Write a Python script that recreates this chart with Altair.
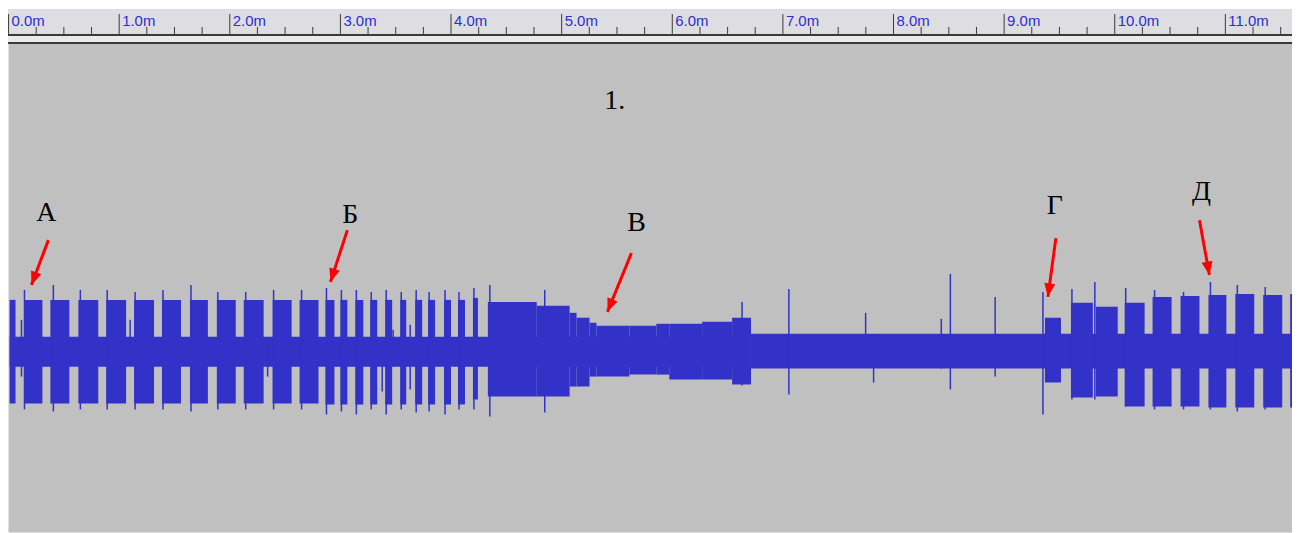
import math
import altair as alt
import pandas as pd

# ---------------- ruler (minutes) ----------------
ruler_major = [0, 1, 2, 3, 4, 5, 6, 7, 8, 9, 10, 11]
ruler_labels = ["0.0m", "1.0m", "2.0m", "3.0m", "4.0m", "5.0m", "6.0m",
                "7.0m", "8.0m", "9.0m", "10.0m", "11.0m"]
ruler_minor = [0.25, 0.5, 0.75, 1.25, 1.5, 1.75, 2.25, 2.5, 2.75, 3.25, 3.5, 3.75,
               4.25, 4.5, 4.75, 5.25, 5.5, 5.75, 6.25, 6.5, 6.75, 7.25, 7.5, 7.75,
               8.25, 8.5, 8.75, 9.25, 9.5, 9.75, 10.25, 10.5, 10.75, 11.25, 11.5]

# ---------------- waveform (time in minutes, amplitude) ----------------
base_start = [0.01, 6.712]
base_end = [6.712, 11.64]
base_top = [0.15, 0.18]
base_bottom = [-0.15, -0.17]

burst_start = [0.01, 0.144, 0.378, 0.631, 0.883, 1.135, 1.387, 1.640, 1.883, 2.126, 2.387, 2.631,
               2.865, 3.000, 3.135, 3.270, 3.405, 3.541, 3.676, 3.793, 3.937, 4.063, 4.198,
               4.333, 4.775, 5.072, 5.135, 5.252, 5.315, 5.613, 5.856, 5.973, 6.270, 6.541,
               9.369, 9.604, 9.829, 10.090, 10.342, 10.595, 10.847, 11.090, 11.342, 11.586]
burst_end = [0.063, 0.306, 0.550, 0.811, 1.063, 1.315, 1.559, 1.802, 2.054, 2.306, 2.559, 2.802,
             2.946, 3.063, 3.207, 3.333, 3.468, 3.595, 3.739, 3.856, 4.000, 4.126, 4.243,
             4.775, 5.072, 5.135, 5.252, 5.315, 5.613, 5.856, 5.973, 6.270, 6.541, 6.712,
             9.514, 9.802, 10.027, 10.270, 10.514, 10.766, 11.009, 11.261, 11.514, 11.64]
burst_top = [0.52, 0.52, 0.52, 0.52, 0.52, 0.52, 0.52, 0.52, 0.52, 0.52, 0.52, 0.52,
             0.52, 0.52, 0.52, 0.52, 0.52, 0.52, 0.52, 0.52, 0.52, 0.52, 0.54,
             0.50, 0.46, 0.39, 0.34, 0.29, 0.26, 0.26, 0.28, 0.28, 0.30, 0.34,
             0.34, 0.49, 0.45, 0.49, 0.55, 0.56, 0.57, 0.58, 0.57, 0.58]
burst_bottom = [-0.52, -0.52, -0.52, -0.52, -0.52, -0.52, -0.52, -0.52, -0.52, -0.52, -0.52, -0.52,
                -0.53, -0.53, -0.53, -0.53, -0.53, -0.53, -0.53, -0.53, -0.53, -0.53, -0.48,
                -0.45, -0.45, -0.35, -0.35, -0.25, -0.25, -0.23, -0.23, -0.28, -0.28, -0.33,
                -0.31, -0.46, -0.45, -0.55, -0.55, -0.55, -0.56, -0.56, -0.56, -0.56]

spike_t = [0.117, 0.144, 0.405, 0.649, 0.892, 1.099, 1.144, 1.396, 1.649, 1.892, 2.144, 2.342, 2.396, 2.649,
           2.874, 3.009, 3.144, 3.279, 3.378, 3.414, 3.477, 3.550, 3.631, 3.685, 3.802, 3.946, 4.072, 4.207,
           4.351, 4.847, 6.631, 7.054, 7.748, 7.820, 8.432, 8.514, 8.919, 9.351,
           9.613, 9.820, 10.099, 10.360, 10.622, 10.865, 11.108, 11.360]
spike_top = [0.32, 0.62, 0.67, 0.62, 0.62, 0.32, 0.60, 0.62, 0.67, 0.60, 0.60, 0.10, 0.62, 0.62,
             0.64, 0.62, 0.62, 0.60, 0.10, 0.62, 0.22, 0.60, 0.27, 0.62, 0.60, 0.62, 0.60, 0.64,
             0.67, 0.62, 0.50, 0.63, 0.39, 0.17, 0.33, 0.78, 0.55, 0.60,
             0.63, 0.70, 0.64, 0.62, 0.60, 0.70, 0.67, 0.65]
spike_bottom = [-0.25, -0.58, -0.60, -0.58, -0.58, -0.10, -0.58, -0.58, -0.60, -0.58, -0.58, -0.25, -0.58, -0.58,
                -0.63, -0.60, -0.63, -0.58, -0.40, -0.63, -0.15, -0.58, -0.38, -0.61, -0.60, -0.63, -0.58, -0.58,
                -0.65, -0.61, -0.34, -0.43, -0.16, -0.31, -0.17, -0.38, -0.25, -0.63,
                -0.48, -0.48, -0.55, -0.58, -0.58, -0.58, -0.60, -0.58]

# ---------------- annotations ----------------
label_text = ["А", "Б", "В", "Г", "Д"]
label_t = [0.342, 3.090, 5.676, 9.459, 10.784]
label_a = [1.39, 1.37, 1.29, 1.46, 1.60]

arrow_t0 = [0.360, 3.063, 5.631, 9.468, 10.766]
arrow_a0 = [1.12, 1.22, 0.99, 1.14, 1.32]
arrow_t1 = [0.207, 2.910, 5.414, 9.396, 10.856]
arrow_a1 = [0.67, 0.70, 0.40, 0.55, 0.77]

title_text = ["1."]
title_t = [5.48]
title_a = [2.52]

# ---------------- layout ----------------
W, H = 1289, 525
T0, T1 = -0.005, -0.005 + 1289 / 111.05
A0, A1 = -1.81, 3.44
WAVE = "#3232c8"
RULER_DARK = "#3a3a3a"

xs = alt.Scale(domain=[T0, T1], nice=False, zero=False)
ys = alt.Scale(domain=[A0, A1], nice=False, zero=False)


def X(f="t"):
    return alt.X(f"{f}:Q", scale=xs, axis=None)


def Y(f="a"):
    return alt.Y(f"{f}:Q", scale=ys, axis=None)


dummy = pd.DataFrame({"k": [0]})


def band(y0, y1, color):
    return alt.Chart(dummy).mark_rect(color=color).encode(
        x=alt.value(0), x2=alt.value(W), y=alt.value(y0), y2=alt.value(y1))


ruler_bg = band(0, 25, "#dedee2")
ruler_l1 = band(25, 27, RULER_DARK)
ruler_strip = band(27, 33, "#eaeaea")
ruler_l2 = band(33, 35, RULER_DARK)

major_df = pd.DataFrame({"t": ruler_major, "lab": ruler_labels})
minor_df = pd.DataFrame({"t": ruler_minor})

major_ticks = alt.Chart(major_df).mark_rule(color=RULER_DARK, strokeWidth=1).encode(
    x=X(), y=alt.value(5), y2=alt.value(25))
minor_ticks = alt.Chart(minor_df).mark_rule(color=RULER_DARK, strokeWidth=1).encode(
    x=X(), y=alt.value(18), y2=alt.value(25))
major_labels = alt.Chart(major_df).mark_text(
    align="left", baseline="alphabetic", dx=3, font="Liberation Sans", fontSize=15,
    color="#2d2dd2").encode(x=X(), y=alt.value(17), text="lab:N")

base_df = pd.DataFrame({"t": base_start, "t2": base_end, "a": base_top, "a2": base_bottom})
burst_df = pd.DataFrame({"t": burst_start, "t2": burst_end, "a": burst_top, "a2": burst_bottom})
spike_df = pd.DataFrame({"t": spike_t, "a": spike_top, "a2": spike_bottom})

base_layer = alt.Chart(base_df).mark_rect(color=WAVE).encode(
    x=X("t"), x2=alt.X2("t2"), y=Y("a"), y2=alt.Y2("a2"))
burst_layer = alt.Chart(burst_df).mark_rect(color=WAVE).encode(
    x=X("t"), x2=alt.X2("t2"), y=Y("a"), y2=alt.Y2("a2"))
spike_layer = alt.Chart(spike_df).mark_rule(color=WAVE, strokeWidth=1.5).encode(
    x=X("t"), y=Y("a"), y2=alt.Y2("a2"))

ppm = W / (T1 - T0)
ppa = H / (A1 - A0)
angles = []
for t0, a0, t1, a1 in zip(arrow_t0, arrow_a0, arrow_t1, arrow_a1):
    dx = (t1 - t0) * ppm
    dy = -(a1 - a0) * ppa
    angles.append(math.degrees(math.atan2(dx, -dy)) % 360)

arrow_df = pd.DataFrame({"t": arrow_t0, "a": arrow_a0, "t2": arrow_t1, "a2": arrow_a1})
head_df = pd.DataFrame({"t": arrow_t1, "a": arrow_a1, "ang": angles})

arrow_lines = alt.Chart(arrow_df).mark_rule(color="#ff0000", strokeWidth=3).encode(
    x=X("t"), x2=alt.X2("t2"), y=Y("a"), y2=alt.Y2("a2"))
arrow_heads = alt.Chart(head_df).mark_point(
    shape="M0,0L1.1,2.7L-1.1,2.7Z", filled=True, size=100, color="#ff0000",
    opacity=1, strokeWidth=0).encode(
    x=X("t"), y=Y("a"), angle=alt.Angle("ang:Q", scale=None))

label_df = pd.DataFrame({"t": label_t, "a": label_a, "txt": label_text})
labels = alt.Chart(label_df).mark_text(
    font="Liberation Serif", fontSize=28, color="black", align="center",
    baseline="middle").encode(x=X("t"), y=Y("a"), text="txt:N")

title_df = pd.DataFrame({"t": title_t, "a": title_a, "txt": title_text})
title = alt.Chart(title_df).mark_text(
    font="Liberation Serif", fontSize=28, color="black", align="center",
    baseline="middle").encode(x=X("t"), y=Y("a"), text="txt:N")

chart = alt.layer(
    ruler_bg, ruler_l1, ruler_strip, ruler_l2, major_ticks, minor_ticks, major_labels,
    base_layer, burst_layer, spike_layer, arrow_lines, arrow_heads, labels, title
).properties(
    width=W, height=H, padding=0, autosize=alt.AutoSizeParams(type="none")
).configure_view(fill="#c0c0c0", stroke="transparent")

chart.save("out.html", embed_options={"renderer": "svg", "actions": False})
